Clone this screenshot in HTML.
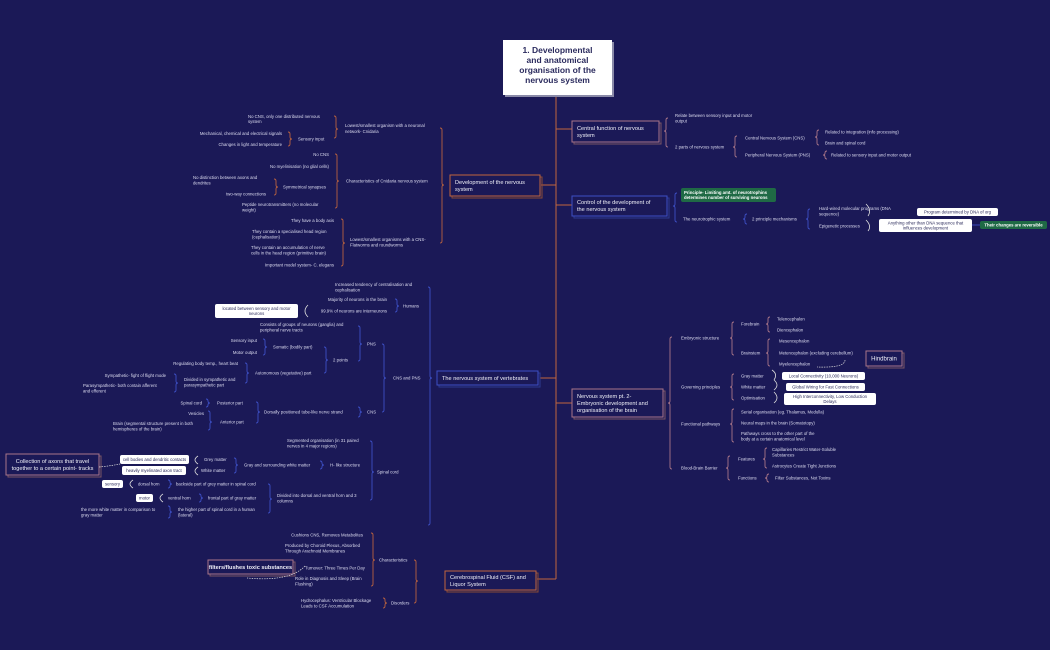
<!DOCTYPE html>
<html><head><meta charset="utf-8"><style>
html,body{margin:0;padding:0;background:#1b1957;}
svg{display:block}
text{font-family:"Liberation Sans",sans-serif;font-size:4.3px;fill:#dcdcf0}
.e{text-anchor:end}
.bx{font-size:5.6px;fill:#f0f0f8}
.dk{fill:#2a2a5a}
.gr{fill:#fff;font-weight:bold}
.o{stroke:#b8613f;fill:none;stroke-width:0.9}
.p{stroke:#a87588;fill:none;stroke-width:0.9}
.b{stroke:#3d4fc4;fill:none;stroke-width:0.9}
.w{stroke:#ddd;fill:none;stroke-width:0.8}
</style></head><body>
<svg width="1050" height="650" viewBox="0 0 1050 650" xmlns="http://www.w3.org/2000/svg">
<rect width="1050" height="650" fill="#1b1957"/>
<!-- trunk -->
<path d="M556,96 V579 M556,129 H572 M541,185 H556 M556,205 H572 M540,378 H556 M556,403 H572 M537,579 H556" stroke="#c0653e" stroke-width="1" fill="none"/>
<!-- title -->
<rect x="505" y="42" width="109" height="55" fill="#8a8aa8"/>
<rect x="503" y="40" width="109" height="55" fill="#fff"/>
<text x="557.5" y="53" text-anchor="middle" style="font-size:8.5px;font-weight:bold;fill:#2b2b5e">1. Developmental</text>
<text x="557.5" y="63" text-anchor="middle" style="font-size:8.5px;font-weight:bold;fill:#2b2b5e">and anatomical</text>
<text x="557.5" y="73" text-anchor="middle" style="font-size:8.5px;font-weight:bold;fill:#2b2b5e">organisation of the</text>
<text x="557.5" y="83" text-anchor="middle" style="font-size:8.5px;font-weight:bold;fill:#2b2b5e">nervous system</text>

<!-- main boxes -->
<rect x="452" y="177" width="90" height="21" fill="none" stroke="#8a4a35" stroke-width="1"/>
<rect x="450" y="175" width="90" height="21" fill="#1b1957" stroke="#c0653e" stroke-width="1"/>
<text class="bx" x="455" y="184">Development of the nervous</text><text class="bx" x="455" y="191">system</text>

<rect x="439" y="373" width="101" height="14" fill="none" stroke="#2d3a90" stroke-width="1"/>
<rect x="437" y="371" width="101" height="14" fill="#1b1957" stroke="#3d4fc4" stroke-width="1"/>
<text class="bx" x="442" y="380">The nervous system of vertebrates</text>

<rect x="447" y="573" width="91" height="19" fill="none" stroke="#8a4a35" stroke-width="1"/>
<rect x="445" y="571" width="91" height="19" fill="#1b1957" stroke="#c0653e" stroke-width="1"/>
<text class="bx" x="450" y="579">Cerebrospinal Fluid (CSF) and</text><text class="bx" x="450" y="586">Liquor System</text>

<rect x="574" y="123" width="87" height="21" fill="none" stroke="#7a5565" stroke-width="1"/>
<rect x="572" y="121" width="87" height="21" fill="#1b1957" stroke="#a87588" stroke-width="1"/>
<text class="bx" x="577" y="130">Central function of nervous</text><text class="bx" x="577" y="137">system</text>

<rect x="574" y="198" width="95" height="20" fill="none" stroke="#2d3a90" stroke-width="1"/>
<rect x="572" y="196" width="95" height="20" fill="#1b1957" stroke="#3d4fc4" stroke-width="1"/>
<text class="bx" x="577" y="204">Control of the development of</text><text class="bx" x="577" y="211">the nervous system</text>

<rect x="574" y="391" width="91" height="28" fill="none" stroke="#7a5565" stroke-width="1"/>
<rect x="572" y="389" width="91" height="28" fill="#1b1957" stroke="#a87588" stroke-width="1"/>
<text class="bx" x="577" y="398">Nervous system pt. 2-</text><text class="bx" x="577" y="405">Embryonic development and</text><text class="bx" x="577" y="412">organisation of the brain</text>

<!-- side boxes -->
<rect x="8" y="456" width="93" height="21" fill="none" stroke="#7a5565"/>
<rect x="6" y="454" width="93" height="21" fill="#1b1957" stroke="#a87588"/>
<text class="bx" x="52.5" y="463" text-anchor="middle">Collection of axons that travel</text><text class="bx" x="52.5" y="470" text-anchor="middle">together to a certain point- tracks</text>
<rect x="210" y="562" width="85" height="14" fill="none" stroke="#7a5565"/>
<rect x="208" y="560" width="85" height="14" fill="#1b1957" stroke="#a87588"/>
<text class="bx" x="250.5" y="569" text-anchor="middle" style="font-weight:bold">filters/flushes toxic substances</text>
<rect x="868" y="353" width="36" height="15" fill="none" stroke="#7a5565"/>
<rect x="866" y="351" width="36" height="15" fill="#1b1957" stroke="#a87588"/>
<text class="bx" x="884" y="360.5" text-anchor="middle" style="font-size:6px">Hindbrain</text>

<!-- white boxes -->
<g fill="#fff">
<rect x="215" y="304" width="83" height="14" rx="2"/>
<rect x="120" y="455" width="69" height="9" rx="2"/>
<rect x="122" y="466" width="64" height="9" rx="2"/>
<rect x="102" y="480" width="21" height="8" rx="2"/>
<rect x="136" y="494" width="17" height="8" rx="2"/>
<rect x="917" y="208" width="81" height="8" rx="2"/>
<rect x="879" y="219" width="93" height="13" rx="2"/>
<rect x="782" y="372" width="83" height="8" rx="2"/>
<rect x="786" y="383" width="79" height="8" rx="2"/>
<rect x="784" y="393" width="92" height="12" rx="2"/>
</g>
<g fill="#1f6a45"><rect x="681" y="188" width="95" height="14" rx="2"/><rect x="980" y="221" width="67" height="8" rx="2"/></g>
<g class="dk">
<text class="dk" x="256.5" y="310" text-anchor="middle">located between sensory and motor</text><text class="dk" x="256.5" y="315" text-anchor="middle">neurons</text>
<text class="dk" x="154.5" y="461" text-anchor="middle">cell bodies and dendritic contacts</text>
<text class="dk" x="154" y="472" text-anchor="middle">heavily myelinated axon tract</text>
<text class="dk" x="112.5" y="485.5" text-anchor="middle">sensory</text>
<text class="dk" x="144.5" y="499.5" text-anchor="middle">motor</text>
<text class="dk" x="957.5" y="213.5" text-anchor="middle">Program determined by DNA of org</text>
<text class="dk" x="925.5" y="224.5" text-anchor="middle">Anything other than DNA sequence that</text><text class="dk" x="925.5" y="229.5" text-anchor="middle">influences development</text>
<text class="dk" x="823.5" y="377.5" text-anchor="middle">Local Connectivity (10,000 Neurons)</text>
<text class="dk" x="825.5" y="388.5" text-anchor="middle">Global Wiring for Fast Connections</text>
<text class="dk" x="830" y="398" text-anchor="middle">High Interconnectivity, Low Conduction</text><text class="dk" x="830" y="403" text-anchor="middle">Delays</text>
</g>
<text class="gr" x="684" y="194">Principle- Limiting amt. of neurotrophins</text><text class="gr" x="684" y="199">determines number of surviving neurons</text>
<text class="gr" x="1013.5" y="226.5" text-anchor="middle">Their changes are reversible</text>
<path d="M972,225 H980" stroke="#3d4fc4" stroke-width="0.9"/>

<!-- dashed connectors -->
<path d="M99,467 Q110,466 120,464" stroke="#ddd" stroke-width="0.7" stroke-dasharray="1.5,1" fill="none"/>
<path d="M305,566 Q290,582 247,578" stroke="#ddd" stroke-width="0.7" stroke-dasharray="1.5,1" fill="none"/>
<path d="M845,360 Q845,368 817,367" stroke="#ddd" stroke-width="0.7" stroke-dasharray="1.5,1" fill="none"/>

<!-- arcs -->
<g class="w">
<path d="M308,305 Q302,311 308,317"/>
<path d="M198,456 Q192,460 198,464 M198,467 Q192,471 198,475"/>
<path d="M133,480 Q127,484 133,488"/>
<path d="M163,494 Q157,498 163,502"/>
<path d="M772,370 Q778,374 774,380 M774,380 Q780,385 774,390 M774,392 Q780,398 774,403"/>
<path d="M866,204 Q872,210 868,216"/>
<path d="M866,220 Q872,226 868,231"/>
</g>

<!-- braces orange -->
<g class="o">
<path d="M334,116 q2,0 2,2 V127 q0,2 2,2 q-2,0 -2,2 V136 q0,2 -2,2"/>
<path d="M288,132 q2,0 2,2 V137 q0,2 2,2 q-2,0 -2,2 V144 q0,2 -2,2"/>
<path d="M440,128 q2,0 2,2 V183 q0,2 2,2 q-2,0 -2,2 V241 q0,2 -2,2"/>
<path d="M335,154 q2,0 2,2 V179 q0,2 2,2 q-2,0 -2,2 V206 q0,2 -2,2"/>
<path d="M274,179 q2,0 2,2 V185 q0,2 2,2 q-2,0 -2,2 V193 q0,2 -2,2"/>
<path d="M341,219 q2,0 2,2 V241 q0,2 2,2 q-2,0 -2,2 V264 q0,2 -2,2"/>
<path d="M371,533 q2,0 2,2 V558 q0,2 2,2 q-2,0 -2,2 V584 q0,2 -2,2"/>
<path d="M383,598 q2,0 2,2 V601 q0,2 2,2 q-2,0 -2,2 V606 q0,2 -2,2"/>
<path d="M414,560 q2,0 2,2 V579 q0,2 2,2 q-2,0 -2,2 V601 q0,2 -2,2"/>
</g>
<!-- braces blue -->
<g class="b">
<path d="M428,287 q2,0 2,2 V376 q0,2 2,2 q-2,0 -2,2 V523 q0,2 -2,2"/>
<path d="M395,299 q2,0 2,2 V304 q0,2 2,2 q-2,0 -2,2 V310 q0,2 -2,2"/>
<path d="M263,339 q2,0 2,2 V345 q0,2 2,2 q-2,0 -2,2 V353 q0,2 -2,2"/>
<path d="M174,374 q2,0 2,2 V381 q0,2 2,2 q-2,0 -2,2 V390 q0,2 -2,2"/>
<path d="M245,363 q2,0 2,2 V371 q0,2 2,2 q-2,0 -2,2 V381 q0,2 -2,2"/>
<path d="M324,347 q2,0 2,2 V358 q0,2 2,2 q-2,0 -2,2 V371 q0,2 -2,2"/>
<path d="M358,326 q2,0 2,2 V342 q0,2 2,2 q-2,0 -2,2 V359 q0,2 -2,2"/>
<path d="M206,399 q2,0 2,2 V401 q0,2 2,2 q-2,0 -2,2 V405 q0,2 -2,2"/>
<path d="M208,411 q2,0 2,2 V420 q0,2 2,2 q-2,0 -2,2 V428 q0,2 -2,2"/>
<path d="M256,402 q2,0 2,2 V410 q0,2 2,2 q-2,0 -2,2 V421 q0,2 -2,2"/>
<path d="M358,407 q2,0 2,2 V410 q0,2 2,2 q-2,0 -2,2 V415 q0,2 -2,2"/>
<path d="M382,344 q2,0 2,2 V376 q0,2 2,2 q-2,0 -2,2 V410 q0,2 -2,2"/>
<path d="M234,458 q2,0 2,2 V463 q0,2 2,2 q-2,0 -2,2 V471 q0,2 -2,2"/>
<path d="M320,461 q2,0 2,2 V463 q0,2 2,2 q-2,0 -2,2 V467 q0,2 -2,2"/>
<path d="M168,480 q2,0 2,2 V482 q0,2 2,2 q-2,0 -2,2 V486 q0,2 -2,2"/>
<path d="M199,494 q2,0 2,2 V496 q0,2 2,2 q-2,0 -2,2 V500 q0,2 -2,2"/>
<path d="M168,506 q2,0 2,2 V510 q0,2 2,2 q-2,0 -2,2 V516 q0,2 -2,2"/>
<path d="M268,484 q2,0 2,2 V497 q0,2 2,2 q-2,0 -2,2 V511 q0,2 -2,2"/>
<path d="M370,441 q2,0 2,2 V470 q0,2 2,2 q-2,0 -2,2 V498 q0,2 -2,2"/>
<path d="M677,193 q-2,0 -2,2 V204 q0,2 -2,2 q2,0 2,2 V220 q0,2 2,2"/>
<path d="M747,214 q-2,0 -2,2 V217 q0,2 -2,2 q2,0 2,2 V222 q0,2 2,2"/>
<path d="M810,209 q-2,0 -2,2 V217 q0,2 -2,2 q2,0 2,2 V227 q0,2 2,2"/>
</g>
<!-- braces pink -->
<g class="p">
<path d="M668,118 q-2,0 -2,2 V129 q0,2 -2,2 q2,0 2,2 V145 q0,2 2,2"/>
<path d="M737,136 q-2,0 -2,2 V145 q0,2 -2,2 q2,0 2,2 V155 q0,2 2,2"/>
<path d="M819,130 q-2,0 -2,2 V135 q0,2 -2,2 q2,0 2,2 V143 q0,2 2,2"/>
<path d="M827,151 q-2,0 -2,2 V153 q0,2 -2,2 q2,0 2,2 V157 q0,2 2,2"/>
<path d="M672,337 q-2,0 -2,2 V401 q0,2 -2,2 q2,0 2,2 V467 q0,2 2,2"/>
<path d="M734,322 q-2,0 -2,2 V336 q0,2 -2,2 q2,0 2,2 V353 q0,2 2,2"/>
<path d="M770,317 q-2,0 -2,2 V322 q0,2 -2,2 q2,0 2,2 V330 q0,2 2,2"/>
<path d="M770,339 q-2,0 -2,2 V351 q0,2 -2,2 q2,0 2,2 V364 q0,2 2,2"/>
<path d="M734,374 q-2,0 -2,2 V385 q0,2 -2,2 q2,0 2,2 V398 q0,2 2,2"/>
<path d="M734,409 q-2,0 -2,2 V422 q0,2 -2,2 q2,0 2,2 V440 q0,2 2,2"/>
<path d="M730,456 q-2,0 -2,2 V466 q0,2 -2,2 q2,0 2,2 V478 q0,2 2,2"/>
<path d="M767,448 q-2,0 -2,2 V457 q0,2 -2,2 q2,0 2,2 V466 q0,2 2,2"/>
<path d="M769,474 q-2,0 -2,2 V476 q0,2 -2,2 q2,0 2,2 V480 q0,2 2,2"/>
</g>

<!-- Development texts -->
<text x="248" y="118">No CNS, only one distributed nervous</text><text x="248" y="123">system</text>
<text x="345" y="127">Lowest/smallest organism with a neuronal</text><text x="345" y="133">network- Cnidaria</text>
<text class="e" x="282" y="135">Mechanical, chemical and electrical signals</text>
<text class="e" x="282" y="146">Changes in light and temperature</text>
<text x="298" y="140.5">Sensory input</text>
<text class="e" x="329" y="156">No CNS</text>
<text class="e" x="329" y="168">No myelinisation (no glial cells)</text>
<text x="193" y="179">No distinction between axons and</text><text x="193" y="184.5">dendrites</text>
<text class="e" x="266" y="195.5">two-way connections</text>
<text x="283" y="188.5">Symmetrical synapses</text>
<text x="242" y="206">Peptide neurotransmitters (no molecular</text><text x="242" y="211.5">weight)</text>
<text x="346" y="182.5">Characteristics of Cnidaria nervous system</text>
<text class="e" x="334" y="222">They have a body axis</text>
<text x="252" y="233">They contain a specialised head region</text><text x="252" y="238.5">(cephalisation)</text>
<text x="251" y="249">They contain an accumulation of nerve</text><text x="251" y="254.5">cells in the head region (primitive brain)</text>
<text class="e" x="334" y="266.5">Important model system- C. elegans</text>
<text x="350" y="241">Lowest/smallest organisms with a CNS-</text><text x="350" y="246.5">Flatworms and roundworms</text>

<!-- Vertebrates texts -->
<text x="335" y="286">Increased tendency of centralisation and</text><text x="335" y="291.5">cephalisation</text>
<text class="e" x="387" y="301">Majority of neurons in the brain</text>
<text class="e" x="387" y="312.5">99.9% of neurons are interneurons</text>
<text x="403" y="307.5">Humans</text>
<text x="260" y="326">Consists of groups of neurons (ganglia) and</text><text x="260" y="331.5">peripheral nerve tracts</text>
<text class="e" x="257" y="342">Sensory input</text>
<text class="e" x="257" y="354">Motor output</text>
<text x="273" y="348.5">Somatic (bodily part)</text>
<text class="e" x="238" y="365">Regulating body temp., heart beat</text>
<text class="e" x="166" y="377">Sympathetic- fight of flight mode</text>
<text x="83" y="387">Parasympathetic- both contain afferent</text><text x="83" y="392.5">and efferent</text>
<text x="184" y="381">Divided in sympathetic and</text><text x="184" y="386.5">parasympathetic part</text>
<text x="255" y="374.5">Autonomous (vegetative) part</text>
<text x="333" y="361.5">2 points</text>
<text x="367" y="345.5">PNS</text>
<text x="393" y="379.5">CNS and PNS</text>
<text class="e" x="202" y="404.5">Spinal cord</text>
<text x="217" y="404.5">Posterior part</text>
<text class="e" x="204" y="415">Vesicles</text>
<text x="113" y="425">Brain (segmental structure present in both</text><text x="113" y="430.5">hemispheres of the brain)</text>
<text x="220" y="423.5">Anterior part</text>
<text x="264" y="413.5">Dorsally positioned tube-like nerve strand</text>
<text x="367" y="413.5">CNS</text>

<!-- Spinal cord -->
<text x="287" y="442">Segmented organisation (in 31 paired</text><text x="287" y="447.5">nerves in 4 major regions)</text>
<text x="204" y="461">Grey matter</text>
<text x="201" y="472">White matter</text>
<text x="244" y="466.5">Gray and surrounding white matter</text>
<text x="330" y="466.5">H- like structure</text>
<text x="377" y="473.5">Spinal cord</text>
<text x="138" y="485.5">dorsal horn</text>
<text x="176" y="485.5">backside part of grey matter in spinal cord</text>
<text x="168" y="499.5">ventral horn</text>
<text x="208" y="499.5">frontal part of gray matter</text>
<text x="81" y="511">the more white matter in comparison to</text><text x="81" y="516.5">gray matter</text>
<text x="178" y="511">the higher part of spinal cord in a human</text><text x="178" y="516.5">(lateral)</text>
<text x="277" y="497">Divided into dorsal and ventral horn and 3</text><text x="277" y="502.5">columns</text>

<!-- CSF -->
<text class="e" x="363" y="536.5">Cushions CNS, Removes Metabolites</text>
<text x="285" y="547">Produced by Choroid Plexus, Absorbed</text><text x="285" y="552.5">Through Arachnoid Membranes</text>
<text x="305" y="569.5">Turnover: Three Times Per Day</text>
<text x="295" y="580">Role in Diagnosis and Sleep (Brain</text><text x="295" y="585.5">Flushing)</text>
<text x="379" y="561.5">Characteristics</text>
<text x="301" y="602">Hydrocephalus: Ventricular Blockage</text><text x="301" y="607.5">Leads to CSF Accumulation</text>
<text x="391" y="604.5">Disorders</text>

<!-- Central function -->
<text x="675" y="117">Relate between sensory input and motor</text><text x="675" y="122.5">output</text>
<text x="675" y="148.5">2 parts of nervous system</text>
<text x="745" y="139.5">Central Nervous System (CNS)</text>
<text x="825" y="133.5">Related to integration (info processing)</text>
<text x="825" y="144.5">Brain and spinal cord</text>
<text x="745" y="156.5">Peripheral Nervous System (PNS)</text>
<text x="831" y="156.5">Related to sensory input and motor output</text>

<!-- Control -->
<text x="683" y="220.5">The neurotrophic system</text>
<text x="752" y="220.5">2 principle mechanisms</text>
<text x="819" y="210">Hard-wired molecular programs (DNA</text><text x="819" y="215.5">sequence)</text>
<text x="819" y="227.5">Epigenetic processes</text>

<!-- NS pt2 -->
<text x="681" y="339.5">Embryonic structure</text>
<text x="741" y="325.5">Forebrain</text>
<text x="777" y="320.5">Telencephalon</text>
<text x="777" y="331.5">Diencephalon</text>
<text x="741" y="354.5">Brainstem</text>
<text x="779" y="342.5">Mesencephalon</text>
<text x="779" y="354.5">Metencephalon (excluding cerebellum)</text>
<text x="779" y="365.5">Myelencephalon</text>
<text x="681" y="388.5">Governing principles</text>
<text x="741" y="377.5">Gray matter</text>
<text x="741" y="388.5">White matter</text>
<text x="741" y="399.5">Optimisation</text>
<text x="681" y="425.5">Functional pathways</text>
<text x="741" y="413.5">Serial organisation (eg. Thalamus, Medulla)</text>
<text x="741" y="424.5">Neural maps in the brain (Somatotopy)</text>
<text x="741" y="435">Pathways cross to the other part of the</text><text x="741" y="440.5">body at a certain anatomical level</text>
<text x="681" y="469.5">Blood-Brain Barrier</text>
<text x="738" y="460.5">Features</text>
<text x="772" y="451">Capillaries Restrict Water-Soluble</text><text x="772" y="456.5">Substances</text>
<text x="772" y="467.5">Astrocytes Create Tight Junctions</text>
<text x="738" y="479.5">Functions</text>
<text x="775" y="479.5">Filter Substances, Not Toxins</text>
</svg>
</body></html>
